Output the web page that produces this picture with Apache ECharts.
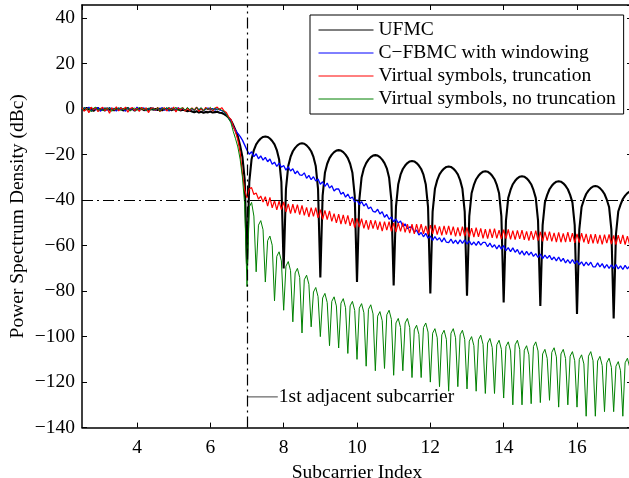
<!DOCTYPE html>
<html>
<head>
<meta charset="utf-8">
<title>PSD</title>
<script src="https://cdn.jsdelivr.net/npm/echarts@6/dist/echarts.min.js"></script>
<style>
  html, body { margin: 0; padding: 0; background: #fff; }
  #chart { width: 629px; height: 478px; }
</style>
</head>
<body>
<div id="chart"></div>
<script>
// samples: x = xStart + i * xStep (subcarrier index), values in dBc
var xStart = 2.5;
var xStep = 0.0625;

var seriesNames = ['UFMC', 'C\u2212FBMC with windowing', 'Virtual symbols, truncation', 'Virtual symbols, no truncation'];

var ufmc = [
  0.3, -0.5, 0.6, -0.2, 0.4, -0.8, 0.2, 0.5, -0.4, 0.1, -0.6, 0.4, -0.3, 0.2, -0.5, 0.3,
  -0.2, 0.4, -0.6, 0.1, 0.5, -0.3, 0.2, -0.7, 0.3, -0.1, 0.4, -0.5, 0.2, -0.3, 0.5, -0.2,
  0.1, -0.4, 0.3, -0.6, 0.2, -0.2, 0.4, -0.5, 0.0, -0.3, 0.2, -0.6, -0.2, -0.5, -0.9, -0.6,
  -1.0, -1.4, -0.9, -1.5, -1.1, -1.6, -1.2, -1.4, -1.0, -1.5, -1.3, -1.1, -1.6, -1.7, -2.2, -2.8,
  -3.8, -5, -7, -9.3, -12, -16, -21, -31, -68, -32, -22, -18, -15.5, -14, -12.9, -12.2,
  -12, -12.2, -12.9, -14, -15.5, -18, -22, -32, -70, -35, -25, -21, -18.5, -17, -15.9, -15.2,
  -15, -15.2, -15.9, -17, -18.5, -21, -25, -35, -74, -38, -28, -24, -21.5, -20, -18.9, -18.2,
  -18, -18.2, -18.9, -20, -21.5, -24, -28, -38, -76, -40, -30, -26, -23.7, -22.2, -21.1, -20.4,
  -20.2, -20.4, -21.1, -22.2, -23.7, -26, -30, -40, -77.5, -43, -33, -28.8, -26.3, -24.8, -23.7, -23,
  -22.8, -23, -23.7, -24.8, -26.3, -28.8, -33, -43, -81, -45, -35, -31.2, -28.7, -27.2, -26.1, -25.4,
  -25.2, -25.4, -26.1, -27.2, -28.7, -31.2, -35, -45, -82, -47, -37, -33.3, -30.8, -29.3, -28.2, -27.5,
  -27.3, -27.5, -28.2, -29.3, -30.8, -33.3, -37, -47, -85, -49, -39, -35.5, -33, -31.5, -30.4, -29.7,
  -29.5, -29.7, -30.4, -31.5, -33, -35.5, -39, -49, -86.5, -51, -41, -37.7, -35.2, -33.7, -32.6, -31.9,
  -31.7, -31.9, -32.6, -33.7, -35.2, -37.7, -41, -51, -90, -53, -43, -39.8, -37.3, -35.8, -34.7, -34,
  -33.8, -34, -34.7, -35.8, -37.3, -39.8, -43, -53, -92, -55, -45, -42, -39.5, -38, -36.9, -36.2,
  -36
];

var cfbmc = [
  -0.4, 0.6, -0.2, 0.9, -0.7, 0.3, -0.3, 0.7, -0.9, 0.2, 0.5, -0.5, 0.8, -0.2, 0.4, -0.8,
  0.5, -0.3, 0.2, -0.9, 0.6, -0.1, 0.3, -0.6, 0.9, -0.4, 0.1, 0.6, -0.7, 0.3, -0.2, 0.5,
  -0.6, 0.4, -0.1, 0.7, -0.5, 0.2, -0.8, 0.5, 0.1, -0.4, 0.6, -0.2, 0.3, -0.6, 0.4, -0.3,
  0.2, -0.5, 0.6, -0.3, 0.4, -0.7, 0.1, 0.5, -0.2, 0.3, -0.4, 0.2, -0.3, -0.6, -1.2, -2.2,
  -3.8, -5.2, -7.6, -9.3, -10.7, -12, -13.6, -15.8, -18, -19.8, -18.7, -20.9, -19.6, -21.8, -20.5, -22.4,
  -21.2, -23.1, -21.9, -24.2, -23.3, -25.2, -23.7, -25.5, -24.8, -26.8, -25.3, -27.2, -26.2, -28.4, -27.2, -28.9,
  -29.1, -28, -30.4, -29.1, -31, -29.7, -31.6, -30.7, -33, -31.9, -33.9, -32.5, -34.7, -33.7, -36, -35,
  -35.1, -37.4, -36.5, -38.7, -37.3, -39.3, -38.6, -40.8, -39.8, -42, -40.6, -42.6, -41.5, -43.8, -43, -44.9,
  -45.3, -44, -46.1, -45.1, -47.5, -46.3, -48.4, -47.4, -49.5, -48.3, -50.1, -49.2, -51.6, -50.4, -52.6, -51.8,
  -52, -54.1, -53.1, -55.3, -54.2, -56.1, -54.6, -56.7, -55.8, -57.7, -56, -57.6, -56.5, -58.4, -56.6, -58.5,
  -58.7, -57.1, -59, -57.6, -59.2, -57.5, -59, -57.4, -59.3, -57.9, -59.7, -58.4, -59.9, -58.1, -59.8, -58.6,
  -58.6, -60.5, -58.9, -60.7, -59.6, -61.4, -59.8, -61.5, -60, -62.2, -60.9, -62.6, -61, -62.9, -61.7, -63.8,
  -62.3, -64.2, -62.5, -64.2, -62.8, -64.7, -63.5, -65.2, -63.7, -65.7, -64.2, -65.6, -64.3, -66.2, -65, -66.7,
  -65, -66.9, -65.6, -67.6, -66.2, -67.8, -66.1, -67.9, -66.6, -68.4, -67.1, -68.9, -67.2, -68.7, -67.3, -69.3,
  -69.3, -67.6, -69.3, -67.9, -69.9, -68.3, -70, -68.4, -70, -68.3, -70.2, -68.9, -70.5, -68.7, -70.2, -68.9,
  -69.8
];

var vsTrunc = [
  0.7, -0.9, 0.4, -1.6, 0.9, -0.3, 0.6, -1.1, 0.2, 0.8, -0.7, 0.4, -1.8, 0.6, -0.4, 1.0,
  -0.8, 0.5, -0.2, 0.9, -1.3, 0.3, 0.7, -0.6, 0.4, -1.0, 0.8, -0.3, 0.5, -1.5, 0.2, 0.6,
  -0.5, 0.8, -1.1, 0.3, 0.6, -0.8, 0.4, -0.2, 0.9, -1.2, 0.5, -0.4, 0.7, -0.9, 0.3, -0.6,
  0.6, -0.4, 0.9, -1.0, 0.3, -0.7, 0.8, -0.3, 0.5, -0.8, 0.4, 0.9, -0.2, 0.7, -0.8, -1.5,
  -3.5, -4.5, -7.5, -10, -13.6, -19, -28.3, -35.6, -39, -35, -34.5, -37.5, -36.8, -39.5, -38.2, -40.8,
  -38.5, -42.6, -38.8, -43.4, -40.2, -44.3, -40.4, -44.2, -40.8, -45.2, -41.6, -45.9, -41.8, -45.7, -42, -46.4,
  -42.3, -46.7, -43.2, -47.4, -43.3, -47.1, -43.3, -47.8, -44.2, -48.5, -44.5, -48.5, -44.7, -49.3, -45.9, -50,
  -46.2, -50.5, -46.5, -50.5, -46.7, -51.3, -47.9, -52.1, -48, -51.9, -48.1, -52.4, -48.8, -52.9, -48.8, -52.5,
  -48.9, -53, -49.5, -53.6, -49.4, -53.2, -49.4, -53.7, -50, -54.1, -50, -53.7, -49.9, -54.2, -50.5, -54.5,
  -50.6, -54.8, -50.6, -54.4, -50.6, -54.8, -51.3, -55.2, -51, -54.8, -50.9, -55.1, -51.5, -55.5, -51.3, -55.2,
  -51.3, -55.4, -51.6, -55.9, -52, -55.8, -51.6, -55.8, -52, -56.3, -52.3, -56.2, -52.1, -56.1, -52.4, -56.8,
  -52.8, -56.9, -52.6, -56.6, -52.5, -56.8, -53.2, -57.1, -53, -56.9, -52.9, -57.2, -53.4, -57.4, -53.3, -57,
  -53.2, -57.5, -53.7, -57.8, -53.6, -57.4, -53.4, -57.8, -53.9, -58.1, -53.9, -57.8, -53.8, -58.1, -54.4, -58.4,
  -54.2, -58.5, -54.6, -58.4, -54.1, -58.3, -54.5, -58.8, -54.8, -58.7, -54.5, -58.5, -54.8, -59.2, -55, -59,
  -54.9, -59.1, -55.3, -59.4, -55.2, -58.9, -55.1, -59.3, -55.5, -59.6, -55.4, -59.2, -55.3, -59.5, -55.8, -59.7,
  -57.6
];

var vsNoTrunc = [
  -0.6, 0.8, -0.3, 0.5, -1.2, 0.4, 0.9, -0.5, 0.3, -0.8, 0.6, -0.2, 0.7, -1.0, 0.4, -0.3,
  0.6, -0.7, 0.3, -0.4, 0.8, -0.9, 0.2, 0.5, -0.6, 0.9, -0.3, 0.4, -0.8, 0.6, -0.5, 0.3,
  -0.4, 0.7, -0.9, 0.5, -0.2, 0.8, -0.6, 0.3, -0.3, 0.9, -0.7, 0.4, 0.6, -0.5, 0.8, -0.2,
  0.5, -0.6, 0.9, -0.3, 0.7, -0.8, 0.4, -0.2, 0.8, -0.5, 0.6, -0.3, 0.2, -0.6, -1.0, -2.4,
  -4.2, -6, -9.8, -13, -16.6, -22, -29.8, -42, -78, -43, -41, -47, -71.5, -51, -49, -53,
  -76, -57.8, -55.8, -59.8, -84.3, -64.7, -62.7, -66.7, -88.4, -69, -67, -71, -93.5, -72, -70, -74,
  -98.4, -75, -73, -77, -95.7, -80.4, -78.4, -82.4, -100, -83, -81, -85, -104, -84.5, -82.5, -86.5,
  -105, -85.3, -83.3, -87.3, -107.4, -86.5, -84.5, -88.5, -110, -87.5, -85.5, -89.5, -113, -88, -86, -90,
  -115, -91, -89, -93, -114, -90.4, -88.4, -92.4, -117, -94, -92, -96, -115, -94, -92, -96,
  -118, -97, -95, -99, -118, -96, -94, -98, -120, -98.5, -96.5, -100.5, -122, -99.2, -97.2, -101.2,
  -124, -98.5, -96.5, -100.5, -122, -99.2, -97.2, -101.2, -123, -102, -100, -104, -124, -101.4, -99.4, -103.4,
  -125, -102.8, -100.8, -104.8, -125, -103.6, -101.6, -105.6, -127, -104.3, -102.3, -106.3, -130, -103.6, -101.6, -105.6,
  -130, -106, -104, -108, -129.5, -104.3, -102.3, -106.3, -129, -107.6, -105.6, -109.6, -128, -106.9, -104.9, -108.9,
  -131, -107.6, -105.6, -109.6, -130, -108.6, -106.6, -110.6, -131, -110, -108, -112, -135, -108.6, -106.6, -110.6,
  -135, -110.7, -108.7, -112.7, -133, -111.5, -109.5, -113.5, -133, -113, -111, -115, -135, -111.5, -109.5, -113.5,
  -120
];

// reference marks
var adjacentCarrier = 7;
var thresholdDb = -40;
var annotationX = [7, 7.84];
var annotationY = -126.5;
var annotationText = '1st adjacent subcarrier';

var font = "'Liberation Serif', 'Times New Roman', serif";

function toPoints(arr) {
  return arr.map(function (v, i) { return [xStart + i * xStep, v]; });
}
function minus(v) {
  return String(v).replace('-', '\u2212');
}

var myChart = echarts.init(document.getElementById('chart'), null, { renderer: 'canvas' });

var axisLine = { show: true, onZero: false, lineStyle: { color: '#000', width: 1.5 } };
var axisTick = { show: true, inside: true, length: 5, lineStyle: { color: '#000', width: 1 } };

var option = {
  animation: false,
  backgroundColor: '#fff',
  grid: { left: 82, top: 5, width: 550, height: 422.6, containLabel: false, outerBoundsMode: 'none' },
  legend: {
    data: seriesNames,
    orient: 'vertical',
    left: 310,
    top: 15,
    padding: [5, 8, 5, 8],
    itemWidth: 55,
    itemHeight: 14,
    itemGap: 3,
    backgroundColor: '#fff',
    borderColor: '#000',
    borderWidth: 1,
    borderRadius: 0,
    selectedMode: false,
    lineStyle: { width: 1 },
    itemStyle: { opacity: 0, borderWidth: 0 },
    textStyle: { fontFamily: font, fontSize: 19.5, color: '#000', lineHeight: 20 }
  },
  xAxis: [
    {
      type: 'value', position: 'bottom', min: 2.5, max: 17.5, splitNumber: 7,
      axisLine: axisLine, axisTick: axisTick, splitLine: { show: false },
      axisLabel: { showMinLabel: false, showMaxLabel: false, margin: 10, color: '#000', fontFamily: font, fontSize: 19.5 },
      name: 'Subcarrier Index', nameLocation: 'middle', nameGap: 21,
      nameTextStyle: { color: '#000', fontFamily: font, fontSize: 19.5 }
    },
    {
      type: 'value', position: 'top', min: 2.5, max: 17.5, splitNumber: 7,
      axisLine: axisLine, axisTick: axisTick, splitLine: { show: false },
      axisLabel: { show: false }
    }
  ],
  yAxis: [
    {
      type: 'value', position: 'left', min: -140, max: 45.8, interval: 20,
      axisLine: axisLine, axisTick: axisTick, splitLine: { show: false },
      axisLabel: { showMaxLabel: false, margin: 7, color: '#000', fontFamily: font, fontSize: 19.5, formatter: minus },
      name: 'Power Spectrum Density (dBc)', nameLocation: 'middle', nameGap: 54, nameMoveOverlap: false,
      nameTextStyle: { color: '#000', fontFamily: font, fontSize: 19.5 }
    },
    {
      type: 'value', position: 'right', min: -140, max: 45.8, interval: 20,
      axisLine: axisLine, axisTick: axisTick, splitLine: { show: false },
      axisLabel: { show: false }
    }
  ],
  series: [
    {
      name: seriesNames[0], type: 'line', data: toPoints(ufmc), symbol: 'none',
      color: '#000', lineStyle: { color: '#000', width: 2.1 },
      markLine: {
        silent: true, symbol: 'none', label: { show: false },
        lineStyle: { color: '#000', width: 1.2, type: [11, 4, 2, 4] },
        data: [{ xAxis: adjacentCarrier }, { yAxis: thresholdDb }]
      }
    },
    {
      name: seriesNames[1], type: 'line', data: toPoints(cfbmc), symbol: 'none',
      color: '#0000ff', lineStyle: { color: '#0000ff', width: 1.3 }
    },
    {
      name: seriesNames[2], type: 'line', data: toPoints(vsTrunc), symbol: 'none',
      color: '#ff0000', lineStyle: { color: '#ff0000', width: 1.2 }
    },
    {
      name: seriesNames[3], type: 'line', data: toPoints(vsNoTrunc), symbol: 'none',
      color: '#008000', lineStyle: { color: '#008000', width: 1 }
    },
    {
      name: 'annotation', type: 'line', symbol: 'none', silent: true,
      data: annotationX.map(function (x) { return [x, annotationY]; }),
      lineStyle: { color: '#444', width: 1 },
      endLabel: {
        show: true, formatter: annotationText, distance: 1,
        color: '#000', fontFamily: font, fontSize: 19.5
      }
    }
  ]
};

myChart.setOption(option);
</script>
</body>
</html>
